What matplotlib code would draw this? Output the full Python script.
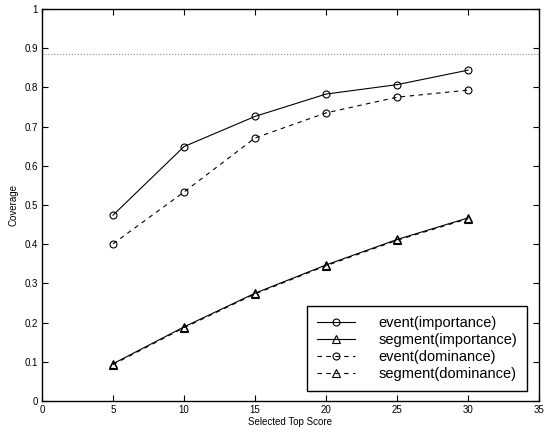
import matplotlib
matplotlib.use('Agg')
import matplotlib.pyplot as plt

plt.rcParams.update({
    'font.family': ['Liberation Sans', 'DejaVu Sans'],
    'xtick.direction': 'in',
    'ytick.direction': 'in',
    'xtick.top': True,
    'ytick.right': True,
    'xtick.labelsize': 7,
    'ytick.labelsize': 7,
})

# ── data ──
top_score = [5, 10, 15, 20, 25, 30]
event_imp = [0.474, 0.649, 0.726, 0.783, 0.807, 0.844]
segment_imp = [0.095, 0.189, 0.275, 0.347, 0.412, 0.467]
event_dom = [0.401, 0.533, 0.671, 0.735, 0.775, 0.793]
segment_dom = [0.093, 0.187, 0.273, 0.345, 0.410, 0.465]
upper_bound = 0.886

fig = plt.figure(figsize=(5.45, 4.32), dpi=100)
ax = fig.add_axes([42/545, 31/432, 497/545, 392/432])

mk = dict(fillstyle='none', markeredgewidth=0.8, color='black', linewidth=0.8)
ax.plot(top_score, event_imp, 'o-', markersize=5, label='event(importance)', **mk)
ax.plot(top_score, segment_imp, '^-', markersize=6, label='segment(importance)', **mk)
ax.plot(top_score, event_dom, 'o--', markersize=5, label='event(dominance)', dashes=(4, 4), **mk)
ax.plot(top_score, segment_dom, '^--', markersize=6, label='segment(dominance)', dashes=(4, 4), **mk)
ax.axhline(upper_bound, color='#888888', linestyle=':', linewidth=0.8)

ax.set_xlim(0, 35)
ax.set_ylim(0, 1)
ax.set_xticks(range(0, 36, 5))
ax.set_yticks([i / 10 for i in range(11)])
ax.set_yticklabels(['0', '0.1', '0.2', '0.3', '0.4', '0.5', '0.6', '0.7', '0.8', '0.9', '1'])
ax.tick_params(length=4, width=0.8, pad=3)
for s in ax.spines.values():
    s.set_linewidth(1.0)

ax.set_xlabel('Selected Top Score', fontsize=7, labelpad=1)
ax.set_ylabel('Coverage', fontsize=7, labelpad=4)

leg = ax.legend(loc='lower right', bbox_to_anchor=(0.976, 0.0255), borderaxespad=0,
                fontsize=10.5, handlelength=2.6, handletextpad=1.6, labelspacing=0.2,
                fancybox=False, framealpha=1, edgecolor='black', borderpad=0.7)
leg.get_frame().set_linewidth(1.0)

plt.savefig('out.png', dpi=100)
